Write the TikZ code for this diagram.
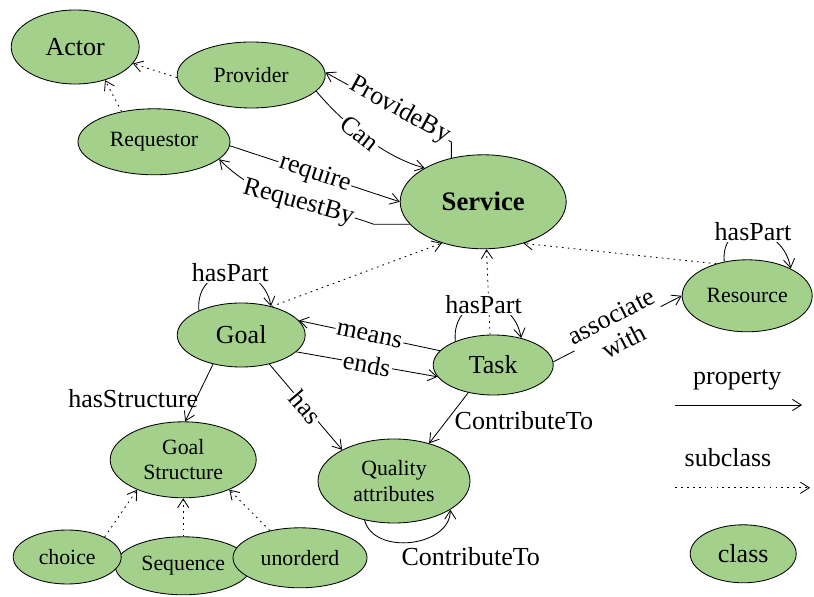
\documentclass[tikz,border=0pt]{standalone}
\usepackage{fontspec}
\setmainfont{Liberation Serif}
\usetikzlibrary{shapes.geometric,arrows.meta}
\definecolor{clsgreen}{RGB}{163,209,140}
\begin{document}
\begin{tikzpicture}[line width=0.6pt,
  cls/.style={ellipse,draw,fill=clsgreen,inner sep=0pt,font=\fontsize{18.5}{20}\selectfont},
  clsm/.style={cls,align=center,font=\fontsize{15.5}{18}\selectfont},
  prop/.style={-{Straight Barb[length=2.2mm,width=2.8mm]}},
  sub/.style={prop,dash pattern=on 1.2pt off 3pt},
  txt/.style={font=\fontsize{18.5}{20}\selectfont},
  lab/.style={txt,fill=white,inner sep=1pt}]
\useasboundingbox (0,0) rectangle (20.35,14.925);
\node[cls,minimum width=3.2cm,minimum height=1.85cm] (actor) at (1.88,13.75) {Actor};
\node[cls,minimum width=3.7cm,minimum height=1.65cm,font=\fontsize{15.5}{18}\selectfont] (provider) at (6.28,13.05) {Provider};
\node[cls,minimum width=3.8cm,minimum height=1.65cm,font=\fontsize{15.5}{18}\selectfont] (requestor) at (3.85,11.38) {Requestor};
\node[cls,minimum width=4.15cm,minimum height=2.35cm,font=\fontsize{19}{20}\selectfont\bfseries] (service) at (12.08,9.88) {Service};
\node[cls,minimum width=3.25cm,minimum height=1.8cm,font=\fontsize{15.5}{18}\selectfont] (resource) at (18.68,7.53) {Resource};
\node[cls,minimum width=3.2cm,minimum height=1.6cm] (goal) at (6.03,6.55) {Goal};
\node[cls,minimum width=3.0cm,minimum height=1.5cm] (task) at (12.33,5.8) {Task};
\node[clsm,minimum width=3.65cm,minimum height=1.9cm] (goalstruct) at (4.58,3.43) {Goal\\Structure};
\node[clsm,minimum width=3.8cm,minimum height=2.1cm] (quality) at (9.85,2.9) {Quality\\attributes};
\node[clsm,minimum width=3.4cm,minimum height=1.45cm] (sequence) at (4.58,0.78) {Sequence};
\node[clsm,minimum width=2.7cm,minimum height=1.35cm] (choice) at (1.68,1.0) {choice};
\node[clsm,minimum width=3.35cm,minimum height=1.5cm] (unorderd) at (7.5,0.98) {unorderd};
% subclass links
\draw[sub] (provider.182) -- (actor.-16);
\draw[sub] (requestor.137) -- (actor.-48);
\draw[sub] (goal.43) -- (service.225);
\draw[sub] (task.96) -- (service.-86);
\draw[sub] (resource.134) -- (service.-46);
\draw[sub] (choice.28) -- (goalstruct.213);
\draw[sub] (sequence.north) -- (goalstruct.south);
\draw[sub] (unorderd.138) -- (goalstruct.-33);
% properties
\draw[prop] (provider.-14) to[out=-50,in=165,looseness=0.8] node[lab,sloped,pos=0.45]{Can} (service.150);
\draw[prop] (service.126) -- ++(0,0.4) -- node[lab,sloped,pos=0.42,yshift=2pt]{ProvideBy} (provider.2);
\draw[prop] (requestor.-3) -- node[lab,sloped]{require} (service.180);
\draw[prop] (service.197) -- ++(-0.9,0) to[out=160,in=-45] node[lab,sloped,pos=0.45]{RequestBy} (requestor.-15);
\draw[prop] (goal.150) to[out=95,in=100,looseness=1.7] node[lab]{hasPart} (goal.44);
\draw[prop] (task.148) to[out=95,in=100,looseness=1.85] node[lab]{hasPart} (task.44);
\draw[prop] (resource.124) to[out=95,in=100,looseness=1.75] node[lab]{hasPart} (resource.32);
\draw[prop] (task.165) -- node[lab,sloped]{means} (goal.14);
\draw[prop] (goal.-17) -- node[lab,sloped]{ends} (task.192);
\draw[prop] (goal.226) -- node[txt,pos=0.6,anchor=east,xshift=5pt]{hasStructure} (goalstruct.87);
\draw[prop] (goal.-46) -- node[lab,sloped]{has} (quality.149);
\draw[prop] (task.228) -- node[txt,pos=0.55,anchor=west,xshift=2pt]{ContributeTo} (quality.47);
\draw[prop] (quality.233) to[out=-75,in=-90,looseness=1.1] node[txt,pos=0.38,anchor=north west]{ContributeTo} (quality.-27);
\draw[prop] (task.3) -- node[lab,sloped,align=center,font=\fontsize{18.5}{20}\selectfont]{associate\\with} (resource.180);
% legend
\node[txt] (property) at (18.43,5.43) {property};
\coordinate (prop a) at (16.88,4.8);
\coordinate (prop b) at (20.05,4.8);
\draw[prop] (prop a) -- (prop b);
\node[txt] (subclass) at (18.2,3.48) {subclass};
\coordinate (sub a) at (16.88,2.73);
\coordinate (sub b) at (20.25,2.73);
\draw[sub] (sub a) -- (sub b);
\node[cls,minimum width=2.65cm,minimum height=1.45cm] (class) at (18.58,1.08) {class};
\end{tikzpicture}
\end{document}
